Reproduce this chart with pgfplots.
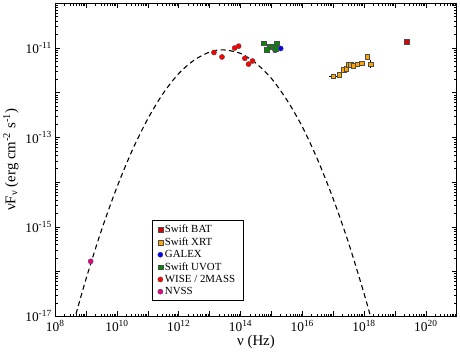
\documentclass[border=0pt]{standalone}
\usepackage{fontspec}
\setmainfont{Liberation Serif}
\usepackage{pgfplots}
\pgfplotsset{compat=1.18}
\definecolor{batred}{HTML}{E00000}
\definecolor{xrtorange}{HTML}{FFA500}
\definecolor{uvotgreen}{HTML}{008C00}
\begin{document}
\begin{tikzpicture}
\begin{axis}[
  xmode=log, ymode=log,
  scale only axis, width=404bp, height=315bp,
  xmin=1e8, xmax=1e21, ymin=1e-17, ymax=1e-10,
  xtick={1e8,1e9,1e10,1e11,1e12,1e13,1e14,1e15,1e16,1e17,1e18,1e19,1e20,1e21},
  xticklabels={10\textsuperscript{8},,10\textsuperscript{10},,10\textsuperscript{12},,10\textsuperscript{14},,10\textsuperscript{16},,10\textsuperscript{18},,10\textsuperscript{20},},
  ytick={1e-17,1e-16,1e-15,1e-14,1e-13,1e-12,1e-11,1e-10},
  yticklabels={10\textsuperscript{-17},,10\textsuperscript{-15},,10\textsuperscript{-13},,10\textsuperscript{-11},},
  tick align=inside, major tick length=5bp, minor tick length=2.5bp,
  tick style={black, line width=0.6bp},
  ticklabel style={font=\fontsize{13.5}{13.5}\selectfont},
  xlabel={ν (Hz)},
  ylabel={νF\textsubscript{ν} (erg cm\textsuperscript{-2} s\textsuperscript{-1})},
  label style={font=\fontsize{15}{15}\selectfont},
  xlabel style={yshift=3bp},
  ylabel style={yshift=0bp},
  axis line style={line width=0.9bp},
  legend cell align=left,
  legend image code/.code={\draw[#1] plot coordinates {(0.35cm,0cm)};},
  legend style={draw=black, line width=0.5bp, at={(0.24,0.05)}, anchor=south west,
    font=\fontsize{11}{11}\selectfont, row sep=-0.5bp, inner xsep=6bp, inner ysep=2.5bp},
]
% log-parabola model
\addplot[black, line width=1.1bp, dash pattern=on 5bp off 3.5bp, smooth, forget plot] coordinates {
(3.98e8,7.41e-18) (1e9,6.92e-17) (3.16e9,8.51e-16) (1e10,7.76e-15) (3.16e10,5.25e-14)
(1e11,2.63e-13) (3.16e11,9.77e-13) (1e12,2.69e-12) (3.16e12,5.37e-12) (1e13,8.13e-12)
(2.69e13,9.12e-12) (1e14,7.59e-12) (3.16e14,4.57e-12) (1e15,2.09e-12) (3.16e15,6.92e-13)
(1e16,1.74e-13) (3.16e16,3.16e-14) (1e17,4.27e-15) (3.16e17,4.37e-16) (1e18,3.24e-17)
(2.0e18,5.89e-18)
};
% error bars
\addplot[black, line width=0.6bp, forget plot] coordinates {(1.62e18,3.55e-12) (1.62e18,5.37e-12)};
\addplot[black, line width=0.6bp, forget plot] coordinates {(7.4e16,2.34e-12) (1.35e17,2.34e-12)};
\addplot[only marks, mark=square*, mark size=2.4bp, mark options={fill=batred, draw=black!70, line width=0.4bp}] coordinates {
(2.45e19,1.38e-11)
};
\addlegendentry{Swift BAT}
\addplot[only marks, mark=square*, mark size=2.4bp, mark options={fill=xrtorange, draw=black!70, line width=0.4bp}] coordinates {
(1.0e17,2.34e-12) (1.58e17,2.51e-12) (2.14e17,3.31e-12) (2.63e17,3.39e-12) (3.09e17,4.17e-12)
(3.63e17,4.17e-12) (4.47e17,4.07e-12) (6.03e17,4.37e-12) (8.32e17,4.57e-12) (1.26e18,6.31e-12)
(1.62e18,4.37e-12)
};
\addlegendentry{Swift XRT}
\addplot[only marks, mark=*, mark size=2.6bp, mark options={fill=blue, draw=black!70, line width=0.4bp}] coordinates {
(1.32e15,8.91e-12) (2.0e15,9.77e-12)
};
\addlegendentry{GALEX}
\addplot[only marks, mark=square*, mark size=2.4bp, mark options={fill=uvotgreen, draw=black!70, line width=0.4bp}] coordinates {
(5.70e14,1.29e-11) (8.71e14,1.10e-11) (1.48e15,1.29e-11) (6.92e14,9.12e-12) (1.12e15,1.05e-11)
(1.35e15,9.77e-12)
};
\addlegendentry{Swift UVOT}
\addplot[only marks, mark=*, mark size=2.6bp, mark options={fill=red, draw=black!70, line width=0.4bp}] coordinates {
(1.38e13,7.94e-12) (2.51e13,6.31e-12) (6.46e13,1.0e-11) (8.71e13,1.10e-11) (1.38e14,5.89e-12)
(1.82e14,4.37e-12) (2.45e14,5.13e-12)
};
\addlegendentry{WISE / 2MASS}
\addplot[only marks, mark=*, mark size=2.6bp, mark options={fill=magenta, draw=black!70, line width=0.4bp}] coordinates {
(1.41e9,1.70e-16)
};
\addlegendentry{NVSS}
\end{axis}
\end{tikzpicture}
\end{document}
